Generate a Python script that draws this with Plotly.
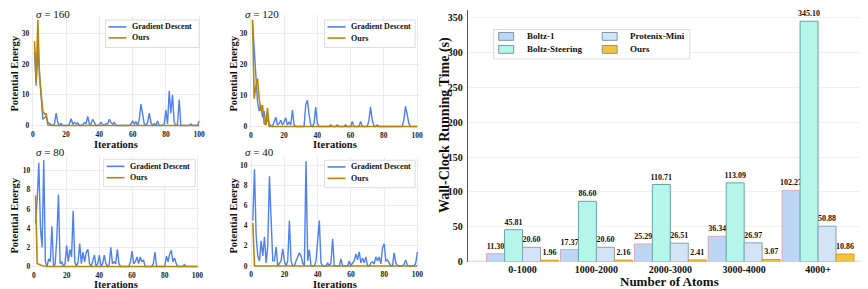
import plotly.graph_objects as go

W, H = 868, 289

# ---------------- data ----------------
iterations = list(range(1, 101))

gd_160 = [24, 13, 25, 17, 10, 2, 2.5, 3, 1, 0.5,
          0.3, 0, 0.5, 4, 1, 0, 0.6, 0, 0, 0,
          0, 0.5, 2.2, 0.5, 1, 0.5, 0.8, 0, 0, 0.3,
          1, 0.5, 3, 0.5, 0.5, 2, 1.2, 0, 0, 0.3,
          1, 0.3, 0, 0.6, 0.5, 2, 1, 0.4, 1, 0,
          0, 0, 0, 0, 0, 0, 0, 0, 0.5, 1.5,
          0.5, 1.2, 0, 2, 7, 3, 0.5, 0, 1, 4,
          1, 0, 0.6, 0, 1.5, 0, 0, 0, 0.5, 5,
          0.5, 11.3, 4, 10, 1, 0, 0.5, 8.5, 0, 0,
          0, 0, 0, 0, 0.5, 0, 0, 0, 0, 1.5]
ours_160 = [27.5, 14, 34.5, 16, 10, 4.5, 3.8, 3.8, 0.2, 0,
            0, 0, 0, 0, 0, 0, 0, 0, 0, 0,
            0, 0, 0, 0, 0, 0, 0, 0, 0, 0,
            0, 0, 0, 0, 0, 0, 0, 0, 0, 0,
            0, 0, 0, 0, 0, 0, 0, 0, 0, 0,
            0, 0, 0, 0, 0, 0, 0, 0, 0, 0,
            0, 0, 0, 0, 0, 0, 0, 0, 0, 0,
            0, 0, 0, 0, 0, 0, 0, 0, 0, 0,
            0, 0, 0, 0, 0, 0, 0, 0, 0, 0,
            0, 0, 0, 0, 0, 0, 0, 0, 0, 0]

gd_120 = [34, 25, 14, 8, 5, 7, 3, 5, 0.5, 2.5,
          1, 0.3, 0, 1.5, 3, 0.5, 1, 2, 0.5, 1.5,
          2.8, 0.5, 1.5, 0.5, 5.3, 0.5, 0, 0, 0, 0,
          0, 0, 7, 8.5, 4, 0.5, 0, 1, 6.3, 1,
          0, 0, 0, 0, 0, 0, 0, 0.5, 0, 0,
          0, 0.5, 0, 0, 0, 0, 0.5, 0, 0, 0,
          1.6, 0, 0, 0, 0, 1.6, 0, 0, 0, 0,
          2, 6.4, 2, 0.3, 0, 0.5, 0, 0, 0, 0,
          0, 0, 0, 0, 0, 0, 0, 0, 0, 0,
          0, 2, 6.5, 4, 1, 0, 0, 0, 0, 0]
ours_120 = [34.5, 9, 13, 15.5, 9, 5, 7, 1, 0.5, 6,
            0, 0, 0, 0, 0, 0, 0, 0, 0, 0,
            0, 0, 0, 0, 0, 0, 0, 0, 0, 0,
            0, 0, 0, 0, 0, 0, 0, 0, 0, 0,
            0, 0, 0, 0, 0, 0, 0, 0, 0, 0,
            0, 0, 0, 0, 0, 0, 0, 0, 0, 0,
            0, 0, 0, 0, 0, 0, 0, 0, 0, 0,
            0, 0, 0, 0, 0, 0, 0, 0, 0, 0,
            0, 0, 0, 0, 0, 0, 0, 0, 0, 0,
            0, 0, 0, 0, 0, 0, 0, 0, 0, 0]

gd_80 = [4.5, 7, 10.8, 4, 2, 11.1, 0.5, 0, 0.8, 0.5,
         4.2, 0, 0.3, 3, 7.5, 0.3, 0.5, 0, 0.3, 2.2,
         0.5, 1.8, 1, 5.8, 0.5, 0, 0.5, 2.4, 0.3, 1.5,
         0.5, 1.5, 1.8, 0.3, 0, 0.5, 1.2, 0, 0.3, 1.2,
         0, 0.3, 1.2, 0.3, 0, 0.2, 2, 0.3, 0.5, 0.3,
         1.8, 0.3, 0, 0, 0, 0, 0, 0, 0.5, 1.6,
         0.3, 0.5, 1.0, 0.3, 1.0, 0.5, 0.7, 0, 0, 0,
         0, 0, 0.3, 1.5, 0, 0, 0, 0, 0, 0,
         1.1, 0.5, 1.3, 1.7, 0.5, 0.9, 0.3, 0, 0, 0,
         0, 0.2, 0, 0, 0, 0, 0, 0, 0, 0]
ours_80 = [7.4, 0.3, 0.25, 0.15, 0.1, 0.05, 0, 0, 0, 0,
           0, 0, 0, 0, 0, 0, 0, 0, 0, 0,
           0, 0, 0, 0, 0, 0, 0, 0, 0, 0,
           0, 0, 0, 0, 0, 0, 0, 0, 0, 0,
           0, 0, 0, 0, 0, 0, 0, 0, 0, 0,
           0, 0, 0, 0, 0, 0, 0, 0, 0, 0,
           0, 0, 0, 0, 0, 0, 0, 0, 0, 0,
           0, 0, 0, 0, 0, 0, 0, 0, 0, 0,
           0, 0, 0, 0, 0, 0, 0, 0, 0, 0,
           0, 0, 0, 0, 0, 0, 0, 0, 0, 0]

gd_40 = [4.5, 9.6, 3, 1, 0.5, 2.5, 1, 2.9, 0.3, 2,
         8.9, 5, 0.5, 0.5, 1.9, 0, 0.2, 0.5, 1.7, 0.5,
         0, 0.5, 4.5, 0.5, 0, 0, 0.5, 1, 1.3, 1,
         0.3, 0, 10.4, 0.5, 1.6, 0, 0, 0, 0.5, 3,
         4.5, 0.3, 0, 0, 0, 0.3, 0, 0.3, 2.7, 0,
         0, 0, 0, 0.7, 0, 0, 0, 0, 0.5, 0,
         0.3, 0.5, 1.2, 0.6, 1.4, 0.3, 0.8, 0.3, 0.9, 0,
         0, 0.3, 0.4, 0.2, 0.9, 0.5, 0.9, 0.2, 1.8, 2.2,
         0.5, 0.6, 0.3, 0, 0, 1.3, 0.3, 0, 0, 0,
         0, 0.2, 0.6, 0, 0, 0, 0, 0, 0.3, 1.4]
ours_40 = [4.3, 0, 0, 0, 0, 0, 0, 0, 0, 0,
           0, 0, 0, 0, 0, 0, 0, 0, 0, 0,
           0, 0, 0, 0, 0, 0, 0, 0, 0, 0,
           0, 0, 0, 0, 0, 0, 0, 0, 0, 0,
           0, 0, 0, 0, 0, 0, 0, 0, 0, 0,
           0, 0, 0, 0, 0, 0, 0, 0, 0, 0,
           0, 0, 0, 0, 0, 0, 0, 0, 0, 0,
           0, 0, 0, 0, 0, 0, 0, 0, 0, 0,
           0, 0, 0, 0, 0, 0, 0, 0, 0, 0,
           0, 0, 0, 0, 0, 0, 0, 0, 0, 0]

sigma_titles = ["160", "120", "80", "40"]
line_names = ["Gradient Descent", "Ours"]

categories = ["0-1000", "1000-2000", "2000-3000", "3000-4000", "4000+"]
boltz1 = [11.30, 17.37, 25.29, 36.34, 102.27]
boltz_steering = [45.81, 86.60, 110.71, 113.09, 345.10]
protenix_mini = [20.60, 20.60, 26.51, 26.97, 50.88]
ours_time = [1.96, 2.16, 2.41, 3.07, 10.86]
bar_names = ["Boltz-1", "Boltz-Steering", "Protenix-Mini", "Ours"]

# ---------------- styling ----------------
SERIF = "Liberation Serif"
GD_COLOR = "#4f80f0"
OURS_COLOR = "#b8860b"
GRID = "#ececec"
BAR_FILL = ["#bed6f6", "#b4f6ec", "#d2e4f6", "#f2c33c"]
BAR_EDGE = ["#d9a9b4", "#6aa3a3", "#8aa2b2", "#d99a1e"]


def fx(px):
    return px / W


def fy(py):
    return 1 - py / H


fig = go.Figure()

subplots = [
    dict(xd=(23.3, 193.7), yd=(7.3, 123.1), yr=[-1, 36], yt=[0, 10, 20, 30],
         gd=gd_160, ours=ours_160),
    dict(xd=(242.3, 412.7), yd=(7.2, 124.2), yr=[-1, 36], yt=[0, 10, 20, 30],
         gd=gd_120, ours=ours_120),
    dict(xd=(24.4, 192.0), yd=(151.2, 267.0), yr=[-0.3, 11.5], yt=[0, 2, 4, 6, 8, 10],
         gd=gd_80, ours=ours_80),
    dict(xd=(242.6, 413.0), yd=(152.4, 266.5), yr=[-0.3, 10.8], yt=[0, 2, 4, 6, 8, 10],
         gd=gd_40, ours=ours_40),
]

tickfont_small = dict(family=SERIF, size=7.5, color="#222", weight="bold")

for k, sp in enumerate(subplots, start=1):
    sfx = "" if k == 1 else str(k)
    fig.add_trace(go.Scatter(x=iterations, y=sp["gd"], mode="lines", name=line_names[0],
                             line=dict(color=GD_COLOR, width=1.4),
                             xaxis="x" + sfx, yaxis="y" + sfx, showlegend=False))
    fig.add_trace(go.Scatter(x=iterations, y=sp["ours"], mode="lines", name=line_names[1],
                             line=dict(color=OURS_COLOR, width=1.6),
                             xaxis="x" + sfx, yaxis="y" + sfx, showlegend=False))
    fig.layout["xaxis" + sfx] = dict(
        domain=[fx(sp["xd"][0]), fx(sp["xd"][1])], anchor="y" + sfx,
        range=[-1, 101], tickvals=[0, 20, 40, 60, 80, 100],
        showgrid=True, gridcolor=GRID, gridwidth=1, zeroline=False, showline=False,
        ticks="", tickfont=tickfont_small, ticklabelstandoff=0)
    fig.layout["yaxis" + sfx] = dict(
        domain=[fy(sp["yd"][1]), fy(sp["yd"][0])], anchor="x" + sfx,
        range=sp["yr"], tickvals=sp["yt"],
        showgrid=True, gridcolor=GRID, gridwidth=1, zeroline=False, showline=False,
        ticks="", tickfont=tickfont_small, ticklabelstandoff=1)

# ---------------- bar chart ----------------
series = [boltz1, boltz_steering, protenix_mini, ours_time]
for i, vals in enumerate(series):
    fig.add_trace(go.Bar(
        x=categories, y=vals, name=bar_names[i],
        marker=dict(color=BAR_FILL[i], line=dict(color=BAR_EDGE[i], width=1)),
        text=[f"{v:.2f}" for v in vals], textposition="outside",
        textfont=dict(family=SERIF, size=8, color="#111", weight="bold"),
        constraintext="none", cliponaxis=False,
        xaxis="x5", yaxis="y5", showlegend=False))

fig.layout["xaxis5"] = dict(
    domain=[fx(462), 1.0], anchor="y5", type="category", range=[-0.74, 4.73],
    showgrid=False, zeroline=False, showline=False, ticks="",
    tickfont=dict(family=SERIF, size=10, color="#111", weight="bold"),
    ticklabelstandoff=0)
fig.layout["yaxis5"] = dict(
    domain=[fy(259), fy(2)], anchor="x5", range=[0, 361.3],
    tickvals=[0, 50, 100, 150, 200, 250, 300, 350],
    showgrid=True, gridcolor="#f1f1f1", zeroline=False,
    showline=True, linecolor="#555", linewidth=1, ticks="",
    tickfont=dict(family=SERIF, size=10, color="#111", weight="bold"),
    ticklabelstandoff=2)

fig.update_layout(barmode="group", bargap=0.027, bargroupgap=0)

shapes = []
annotations = []

shapes.append(dict(type="line", xref="paper", yref="y5", x0=fx(462), x1=1.0, y0=0, y1=0,
                   line=dict(color="#f0b4bc", width=1.5), layer="below"))


def text_ann(x, y, txt, size, xanchor="center", angle=0, weight="bold", family=SERIF):
    annotations.append(dict(x=fx(x), y=fy(y), xref="paper", yref="paper", text=txt,
                            showarrow=False, xanchor=xanchor, yanchor="middle",
                            textangle=angle, borderpad=0,
                            font=dict(family=family, size=size, color="#111", weight=weight)))


title_pos = [(27, 6), (236.7, 6), (27, 146.7), (236.7, 146.7)]
ylab_pos = [(7, 67), (227, 67), (7, 212), (227, 212)]
xlab_pos = [(109, 139), (329, 139), (109, 282.3), (329, 282.3)]
for k in range(4):
    text_ann(title_pos[k][0], title_pos[k][1], f"<i>σ</i> = {sigma_titles[k]}", 11,
             xanchor="left", weight="normal")
    text_ann(ylab_pos[k][0], ylab_pos[k][1], "Potential Energy", 10.5, angle=-90)
    text_ann(xlab_pos[k][0], xlab_pos[k][1], "Iterations", 10.5)

legend_boxes = [(98, 192, 12.3, 19.3, 30.5), (318, 409, 12.3, 19.3, 30.7),
                (96, 188, 154.5, 161.7, 173.3), (318, 409, 155.5, 162.3, 174)]
for (L, R, T, r1, r2) in legend_boxes:
    shapes.append(dict(type="rect", xref="paper", yref="paper",
                       x0=fx(L), x1=fx(R), y0=fy(T + 28), y1=fy(T),
                       fillcolor="rgba(255,255,255,0.85)",
                       line=dict(color="#dddddd", width=1)))
    for ry, col in ((r1, GD_COLOR), (r2, OURS_COLOR)):
        shapes.append(dict(type="line", xref="paper", yref="paper",
                           x0=fx(L + 3), x1=fx(L + 21), y0=fy(ry), y1=fy(ry),
                           line=dict(color=col, width=1.6)))
    text_ann(L + 26, r1, line_names[0], 8, xanchor="left")
    text_ann(L + 26, r2, line_names[1], 8, xanchor="left")

shapes.append(dict(type="rect", xref="paper", yref="paper",
                   x0=fx(488), x1=fx(685), y0=fy(52), y1=fy(22),
                   fillcolor="rgba(255,255,255,0.85)", line=dict(color="#dddddd", width=1)))
bar_leg = [(0, 493, 520, 29), (2, 597, 624, 29), (1, 493, 520, 42.3), (3, 597, 624, 42.3)]
for idx, px0, tx, ry in bar_leg:
    shapes.append(dict(type="rect", xref="paper", yref="paper",
                       x0=fx(px0), x1=fx(px0 + 15), y0=fy(ry + 4), y1=fy(ry - 4),
                       fillcolor=BAR_FILL[idx], line=dict(color="#7f97a6", width=1)))
    text_ann(tx, ry, bar_names[idx], 9, xanchor="left")

text_ann(439, 119.5, "Wall-Clock Running Time (s)", 14, angle=-90)
text_ann(665, 279.5, "Number of Atoms", 13)

fig.update_layout(
    width=W, height=H, autosize=False,
    margin=dict(l=0, r=0, t=0, b=0),
    paper_bgcolor="white", plot_bgcolor="white",
    showlegend=False,
    shapes=shapes, annotations=annotations,
    font=dict(family=SERIF),
)

fig.write_html("out.html")
